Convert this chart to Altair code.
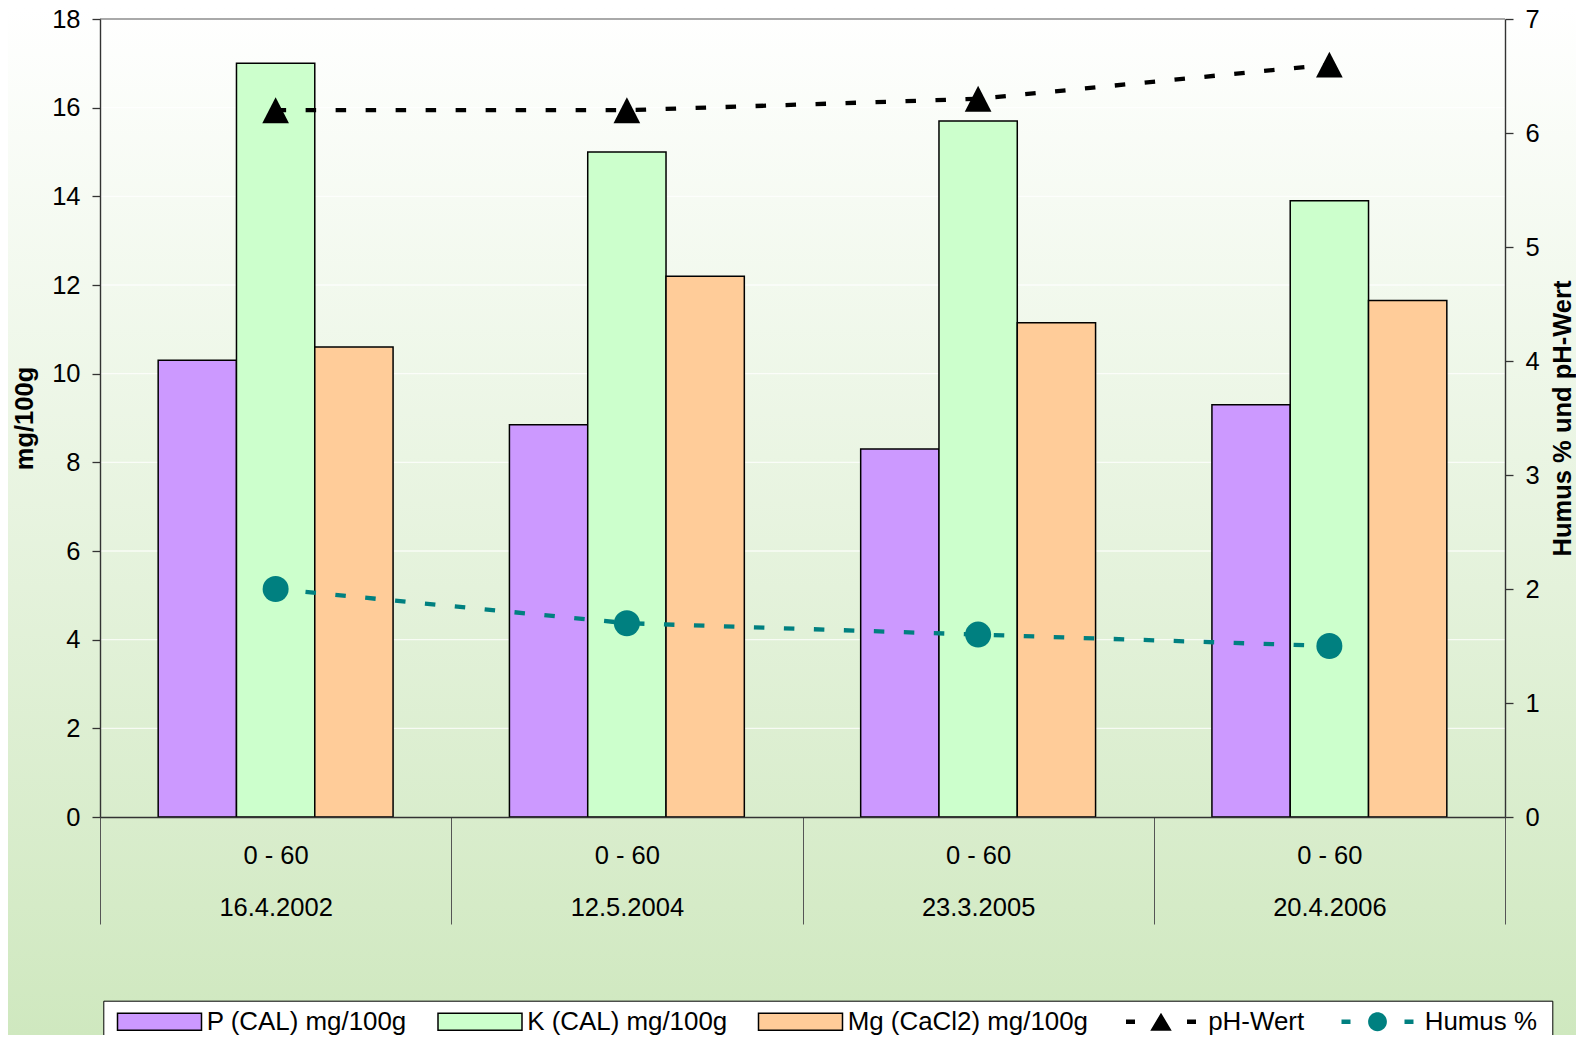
import altair as alt
import pandas as pd

# ---------------- data ----------------
dates = ["16.4.2002", "12.5.2004", "23.3.2005", "20.4.2006"]
depth_label = "0 - 60"
bar_series = ["P (CAL) mg/100g", "K (CAL) mg/100g", "Mg (CaCl2) mg/100g"]
line_series = ["pH-Wert", "Humus %"]
p_cal = [10.3, 8.85, 8.3, 9.3]
k_cal = [17.0, 15.0, 15.7, 13.9]
mg_cacl2 = [10.6, 12.2, 11.15, 11.65]
ph_wert = [6.2, 6.2, 6.3, 6.6]
humus = [2.0, 1.7, 1.6, 1.5]
left_ticks = list(range(0, 19, 2))
right_ticks = list(range(0, 8))
bar_colors = ["#CC99FF", "#CCFFCC", "#FFCC99"]
line_colors = ["#000000", "#008080"]

all_series = bar_series + line_series
bar_values = [p_cal, k_cal, mg_cacl2]
line_values = [ph_wert, humus]

df_bars = pd.DataFrame(
    [{"date": d, "series": s, "value": v[i]}
     for s, v in zip(bar_series, bar_values) for i, d in enumerate(dates)]
)
df_lines = pd.DataFrame(
    [{"date": d, "series": s, "value": v[i]}
     for s, v in zip(line_series, line_values) for i, d in enumerate(dates)]
)
df_grid = pd.DataFrame({"v": left_ticks[1:]})

# ---------------- style ----------------
FONT = "Liberation Sans"
FS = 25.5
LFS = 25.9
W, H = 1405, 798
PAD = {"left": 92, "top": 11, "right": 71, "bottom": 218}

left_scale = alt.Scale(domain=[0, 18], nice=False)
right_scale = alt.Scale(domain=[0, 7], nice=False)

# legend symbol paths (unit = sqrt(size)/2 = 8.5 px)
bar_path = "M-4.941,-1L4.941,-1L4.941,1L-4.941,1Z"
ph_path = ("M-4.118,-0.253L-3.059,-0.253L-3.059,0.253L-4.118,0.253Z"
           "M0,-1.06L1.265,1.06L-1.265,1.06Z"
           "M3.059,-0.253L4.118,-0.253L4.118,0.253L3.059,0.253Z")
r = 1.106
k = round(0.5523 * r, 4)
circle_path = (f"M{-r},0C{-r},{-k},{-k},{-r},0,{-r}C{k},{-r},{r},{-k},{r},0"
               f"C{r},{k},{k},{r},0,{r}C{-k},{r},{-r},{k},{-r},0Z")
hum_path = ("M-4.235,-0.253L-3.176,-0.253L-3.176,0.253L-4.235,0.253Z"
            + circle_path +
            "M3.176,-0.253L4.235,-0.253L4.235,0.253L3.176,0.253Z"
            "M19.2,0L19.2,0")

fill_scale = alt.Scale(domain=all_series, range=bar_colors + line_colors)
stroke_scale = alt.Scale(domain=all_series,
                         range=["black", "black", "black", "transparent", "transparent"])
shape_scale = alt.Scale(domain=all_series,
                        range=[bar_path, bar_path, bar_path, ph_path, hum_path])

LEG = alt.Legend(
    title=None,
    orient="none",
    legendX=3.3,
    legendY=981.7,
    direction="horizontal",
    padding=8,
    strokeColor="black",
    fillColor="white",
    columnPadding=24.5,
    labelFont=FONT,
    labelFontSize=LFS,
    labelColor="black",
    labelOffset=34.25,
    symbolOffset=35.25,
    symbolSize=289,
    symbolStrokeWidth=1.5,
    symbolOpacity=1,
    labelLimit=1000,
)

x_axis = alt.Axis(
    labelExpr=f"datum.label ? ['{depth_label}', datum.label] : ''",
    labelFont=FONT,
    labelFontSize=FS,
    labelColor="black",
    labelLineHeight=52,
    labelPadding=-81,
    labelAngle=0,
    tickBand="extent",
    tickSize=107,
    tickColor="#555555",
    tickWidth=1,
    domainColor="#333333",
    domainWidth=1.6,
    grid=False,
    zindex=1,
)
X = alt.X("date:N", sort=dates, title=None,
          scale=alt.Scale(paddingInner=0, paddingOuter=0), axis=x_axis)

axis_common = dict(
    tickSize=8,
    tickColor="#333333",
    tickWidth=1.3,
    domainColor="#333333",
    domainWidth=1.4,
    labelPadding=12,
    labelFont=FONT,
    labelFontSize=FS,
    labelColor="black",
    titleFont=FONT,
    titleFontSize=FS,
    titleFontWeight="bold",
    titleColor="black",
    titleAngle=270,
    titleBaseline="middle",
    grid=False,
    zindex=1,
)
left_axis = alt.Axis(title="mg/100g", values=left_ticks, titleX=-75.7, **axis_common)
right_axis = alt.Axis(title="Humus % und pH-Wert", orient="right", values=right_ticks,
                      titleX=57.3, **axis_common)

# ---------------- layers ----------------
background = alt.Chart(pd.DataFrame({"a": [0]})).mark_rect(
    fill=alt.Gradient(
        gradient="linear",
        stops=[alt.GradientStop(color="#FFFFFF", offset=0),
               alt.GradientStop(color="#CFE8BF", offset=1)],
        x1=0, x2=0, y1=0, y2=1,
    )
).encode(
    x=alt.value(-PAD["left"]), x2=alt.value(W + PAD["right"]),
    y=alt.value(-PAD["top"]), y2=alt.value(H + PAD["bottom"]),
)

grid = alt.Chart(df_grid).mark_rule(strokeWidth=1.3).encode(
    y=alt.Y("v:Q", scale=left_scale, axis=left_axis, title="mg/100g"),
    color=alt.condition(alt.datum.v == left_ticks[-1],
                        alt.value("#8c8c8c"), alt.value("rgba(255,255,255,0.75)")),
)

bars = alt.Chart(df_bars).mark_bar(strokeWidth=1.5, opacity=1).encode(
    x=X,
    xOffset=alt.XOffset("series:N", sort=bar_series,
                        scale=alt.Scale(paddingOuter=0.743, paddingInner=0)),
    y=alt.Y("value:Q", scale=left_scale, axis=left_axis, title="mg/100g"),
    fill=alt.Fill("series:N", scale=fill_scale, legend=LEG, title=None),
    stroke=alt.Stroke("series:N", scale=stroke_scale, legend=LEG, title=None),
)

# legend-only layer (no rows): carries the per-series legend symbol shapes
legend_keys = alt.Chart(df_lines).transform_filter("false").mark_point(
    filled=True, size=289, opacity=1, strokeWidth=1.5
).encode(
    fill=alt.Fill("series:N", scale=fill_scale, legend=LEG, title=None),
    stroke=alt.Stroke("series:N", scale=stroke_scale, legend=LEG, title=None),
    shape=alt.Shape("series:N", scale=shape_scale, legend=LEG, title=None),
)

Yr = alt.Y("value:Q", scale=right_scale, axis=right_axis, title="Humus % und pH-Wert")

tri_path = "M0,-0.97L1,0.97L-1,0.97Z"
right_layers = []
for name, col, shp, sz in [(line_series[0], line_colors[0], tri_path, 713),
                           (line_series[1], line_colors[1], "circle", 676)]:
    base = alt.Chart(df_lines).transform_filter(alt.datum.series == name)
    right_layers.append(
        base.mark_line(strokeWidth=4.3, strokeDash=[10.5, 19.5], strokeCap="butt",
                       color=col).encode(x=X, y=Yr)
    )
    right_layers.append(
        base.mark_point(shape=shp, size=sz, filled=True, color=col,
                        strokeWidth=0, opacity=1).encode(x=X, y=Yr)
    )

left = alt.layer(background, grid, bars, legend_keys)
right = alt.layer(*right_layers)

chart = alt.layer(left, right).resolve_scale(y="independent").properties(
    width=W, height=H, padding=PAD,
    autosize=alt.AutoSizeParams(type="none"),
).configure_view(stroke=None).configure(font=FONT)

chart.save("out.html", embed_options={"renderer": "svg", "actions": False})
